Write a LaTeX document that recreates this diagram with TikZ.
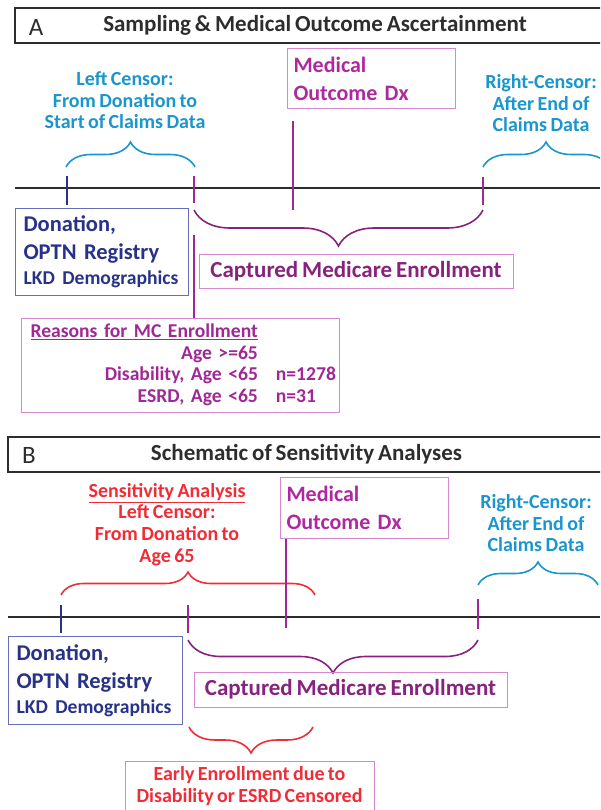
\documentclass[tikz,border=0pt]{standalone}
\usepackage{fontspec}
\setmainfont{Carlito}[WordSpace=0.75]
\frenchspacing
\usetikzlibrary{positioning,decorations.pathreplacing}
\definecolor{cyanc}{RGB}{25,150,205}
\definecolor{navyc}{RGB}{40,50,135}
\definecolor{navybox}{RGB}{100,110,185}
\definecolor{magc}{RGB}{175,40,160}
\definecolor{purpc}{RGB}{135,35,125}
\definecolor{purtick}{RGB}{160,40,150}
\definecolor{pinkbox}{RGB}{215,135,205}
\definecolor{redc}{RGB}{240,45,55}
\definecolor{ttlgray}{RGB}{45,45,45}

\begin{document}
\begin{tikzpicture}[x=1pt, y=-1pt,
  ttlbox/.style={draw=ttlgray, line width=1.6pt, minimum height=35pt, inner sep=0pt,
    text=ttlgray, font=\fontsize{23}{26}\selectfont\bfseries},
  lettr/.style={text=ttlgray, font=\fontsize{25}{28}\selectfont},
  cyantxt/.style={text=cyanc, align=center, font=\fontsize{20}{21.5}\selectfont\bfseries},
  redtxt/.style={text=redc, align=center, font=\fontsize{20}{21.7}\selectfont\bfseries},
  medbox/.style={draw=pinkbox, line width=1pt, text=magc, align=left, text width=156pt,
    inner xsep=6pt, minimum height=60pt, font=\fontsize{22}{28}\selectfont\bfseries},
  donbox/.style={draw=navybox, line width=1pt, text=navyc, align=left, text width=157pt,
    inner xsep=8pt, minimum height=87pt, font=\fontsize{22.5}{28}\selectfont\bfseries},
  capbox/.style={draw=pinkbox, line width=1pt, text=purpc, minimum height=34pt,
    font=\fontsize{23}{26}\selectfont\bfseries},
  tline/.style={draw=ttlgray, line width=1.8pt},
  ntick/.style={draw=navyc, line width=1.6pt},
  ptick/.style={draw=purtick, line width=1.6pt},
  brc/.style={decorate, decoration={brace, amplitude=#1}, line width=1.6pt},
]
\useasboundingbox (0,0) rectangle (600,810);
\clip (0,0) rectangle (600,810);

% ---------- panel A ----------
\node[ttlbox, minimum width=600pt] (ttlA) at (315,25.5) {Sampling \& Medical Outcome Ascertainment};
\node[lettr] (letA) at (36,27) {A};

\node[cyantxt] (leftA) at (125,100.5) {Left Censor:\\From Donation to\\Start of Claims Data};
\node[medbox, anchor=north west] (medA) at (287,48) {Medical\\Outcome Dx};
\node[cyantxt] (rightA) at (541,103.5) {Right-Censor:\\After End of\\Claims Data};

\draw[brc=25pt, cyanc] (66,167) -- (195,167);
\draw[brc=25pt, cyanc] (483,167) -- (609,167);

\coordinate (startA) at (15,188);
\coordinate (endA) at (600,188);
\draw[tline] (startA) -- (endA);

\draw[ntick] (67,176) -- (67,205);
\draw[ptick] (194,176) -- (194,203);
\draw[ptick] (483,177) -- (483,205);
\coordinate (dxA) at (293,210);
\draw[ptick] ([shift={(6,12)}]medA.south west) -- (dxA);

\draw[brc=36pt, purpc] (483,210) -- (194,210);

\node[donbox, anchor=north west] (donA) at (15,208)
  {Donation,\\OPTN Registry\\[-3pt]{\fontsize{19.6}{25}\selectfont LKD Demographics}};
\node[capbox, minimum width=314pt] (capA) at (356,271.5) {Captured Medicare Enrollment};

\node[draw=pinkbox, line width=1pt, text=purtick, anchor=north west, text width=318pt,
  inner xsep=0pt, inner ysep=4pt, font=\fontsize{19.6}{21.5}\selectfont\bfseries] (reasA) at (21,318)
  {\hspace*{9pt}\begin{tabular}{@{}r@{\hspace{18pt}}l@{}}
    \underline{Reasons for MC Enrollment} & \\
    Age >=65 & \\
    Disability, Age <65 & n=1278\\
    ESRD, Age <65 & n=31
  \end{tabular}};
\coordinate (enrA) at (194,235);
\draw[ptick] (enrA) -- (enrA |- reasA.north);

% ---------- panel B ----------
\node[ttlbox, minimum width=597pt] (ttlB) at (306.5,454.5) {Schematic of Sensitivity Analyses};
\node[lettr] (letB) at (29,455) {B};

\node[redtxt] (sensB) at (167,524.5) {\underline{Sensitivity Analysis}\\Left Censor:\\From Donation to\\Age 65};
\node[medbox, anchor=north west, minimum height=61pt] (medB) at (280,477) {Medical\\Outcome Dx};
\node[cyantxt] (rightB) at (536,523.5) {Right-Censor:\\After End of\\Claims Data};

\draw[brc=23pt, redc] (61,595) -- (315,595);
\draw[brc=23pt, cyanc] (478,585) -- (598,585);

\coordinate (startB) at (8,617);
\coordinate (endB) at (600,617);
\draw[tline] (startB) -- (endB);

\draw[ntick] (61,605) -- (61,633);
\draw[ptick] (188,605) -- (188,633);
\draw[ptick] (478,599) -- (478,629);
\coordinate (dxB) at (286,628);
\draw[ptick] (medB.south west -| dxB) -- (dxB);

\draw[brc=33pt, purpc] (478,640) -- (188,640);

\node[donbox, anchor=north west, minimum height=88pt, text width=158pt] (donB) at (8,636)
  {Donation,\\OPTN Registry\\[-3pt]{\fontsize{19.6}{25}\selectfont LKD Demographics}};
\node[capbox, minimum width=313pt, minimum height=35pt] (capB) at (350.5,689.5) {Captured Medicare Enrollment};

\draw[brc=26pt, redc] (313,727) -- (189,727);

\node[draw=pinkbox, line width=1pt, text=redc, align=center, anchor=north, minimum width=249pt,
  inner ysep=5pt, font=\fontsize{20}{22}\selectfont\bfseries] (earlyB) at (249.5,761)
  {Early Enrollment due to\\Disability or ESRD Censored\\[8pt]};
\end{tikzpicture}
\end{document}
